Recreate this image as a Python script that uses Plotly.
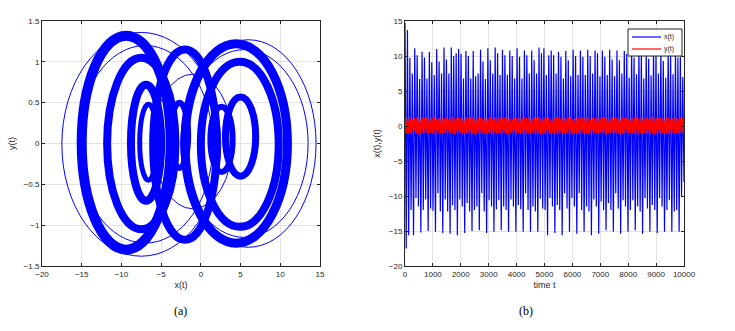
import numpy as np
import plotly.graph_objects as go

# ---------------- (a) phase portrait: loops ----------------
# each loop: x-left, x-right, y-bottom, y-top, line width (px)
loop_x0 = [-15.0, -11.8, -8.8, -7.7, -6.0, -3.8, -2.0, 0.0, 3.1, 1.2,
           -17.5, -2.5, -15.5, -2.5, -6.0]
loop_x1 = [-3.8, -3.2, -5.0, -5.5, 2.0, -1.6, 10.9, 9.8, 6.9, 4.0,
           2.5, 14.5, 1.5, 13.5, 4.0]
loop_y0 = [-1.30, -1.05, -0.70, -0.45, -1.18, -0.30, -1.22, -1.02, -0.40, -0.35,
           -1.38, -1.27, -1.22, -1.15, -0.80]
loop_y1 = [1.32, 1.05, 0.72, 0.48, 1.15, 0.50, 1.22, 1.00, 0.57, 0.45,
           1.36, 1.27, 1.20, 1.15, 0.85]
loop_w = [10, 8, 8, 5, 8, 6, 9, 8, 7, 6,
          1, 1, 1, 1, 1]

# ---------------- (b) time series: extrema ----------------
x_peaks = [14.7, 13.7, 9.7, 7.5, 11.1, 10.1, 6.7, 10.6, 9.8, 6.8,
           10.6, 9.1, 7.3, 11.0, 9.2, 7.5, 11.2, 9.5, 7.5, 11.2,
           10.0, 10.4, 11.0, 10.3, 6.8, 10.7, 10.0, 6.8, 10.7, 7.1,
           7.5, 10.9, 9.2, 6.7, 11.1, 9.4, 7.5, 11.2, 10.4, 7.3,
           10.9, 10.1, 7.3, 10.8, 10.0, 6.8, 11.1, 9.9, 6.8, 10.8,
           10.1, 7.5, 10.8, 9.4, 7.5, 11.2, 10.4,
           11.1, 7.3, 10.1, 10.8, 10.1, 7.5, 10.6, 9.9, 6.8, 10.7,
           9.4, 7.1, 10.9, 10.0, 7.3, 10.8, 9.9, 7.3, 10.9, 10.0,
           7.5, 10.8, 10.4, 7.1, 10.8, 9.9, 7.3, 10.9, 9.5, 7.1,
           10.8, 9.4, 7.5, 10.7, 10.3, 6.9, 11.0, 9.8, 7.4, 10.9,
           10.2, 6.8, 10.6, 9.6, 7.2, 11.1, 10.0, 7.5, 10.8, 9.3,
           6.9, 11.0, 10.2, 7.4, 10.7, 9.8, 9.9, 7.0]
x_troughs = [-17.5, -15.6, -12.0, -15.6, -10.3, -11.5, -15.2, -12.0, -10.5, -15.0,
             -11.8, -12.1, -15.1, -9.6, -12.2, -15.3, -10.5, -12.2, -15.4, -11.3,
             -12.0, -15.6, -10.5, -11.5, -15.3, -11.0, -12.2, -15.0, -12.0, -11.5,
             -14.9, -9.6, -12.2, -15.3, -10.6, -11.5, -15.1, -11.9, -10.6, -14.9,
             -11.5, -12.0, -15.1, -10.5, -11.5, -15.1, -11.3, -11.9, -15.1, -9.6,
             -12.0, -15.1, -11.5, -12.2, -15.1, -10.4, -11.8,
             -12.0, -15.6, -10.3, -11.5, -15.3, -11.3, -12.0, -15.6, -9.6, -11.8,
             -15.1, -10.3, -11.5, -15.4, -9.6, -12.0, -15.1, -11.5, -12.2, -15.6,
             -10.5, -11.5, -15.4, -10.8, -12.0, -14.9, -11.0, -12.0, -15.1, -9.6,
             -11.8, -15.4, -10.6, -11.5, -15.1, -12.0, -10.6, -14.9, -11.5, -12.2,
             -15.4, -10.3, -11.8, -15.1, -11.3, -12.0, -15.3, -10.3, -11.5, -15.1,
             -12.0, -10.6, -15.1, -12.2, -12.0, -15.1, -10.0, -8.0]
y_highs = [1.2, 1.1, 1.25, 0.95, 1.15, 1.3, 1.0, 1.2, 1.1, 1.25,
           1.05, 1.2, 1.3, 1.0, 1.15, 1.2, 1.1, 1.25, 0.95, 1.2,
           1.3, 1.05, 1.15, 1.2, 1.0, 1.25, 1.1, 1.2, 1.3, 1.0,
           1.15, 1.25, 1.05, 1.2, 1.1, 1.3, 1.0, 1.2, 1.15, 1.25,
           1.05, 1.2, 1.3, 1.1, 1.0, 1.25, 1.15, 1.2, 1.05, 1.3,
           1.1, 1.2, 1.0, 1.25, 1.15, 1.3, 1.05, 1.2, 1.1, 1.25,
           1.0, 1.2, 1.3, 1.15, 1.05, 1.25, 1.1, 1.2, 1.3, 1.0,
           1.15, 1.25, 1.05, 1.2, 1.1, 1.3, 1.0, 1.2, 1.15, 1.25,
           1.05, 1.2, 1.3, 1.1, 1.0, 1.25, 1.15, 1.2, 1.05, 1.3,
           1.1, 1.2, 1.0, 1.25, 1.15, 1.3, 1.05, 1.2, 1.1, 1.25,
           1.0, 1.2, 1.3, 1.15, 1.05, 1.25, 1.1, 1.2, 1.3, 1.0,
           1.15, 1.25, 1.05, 1.2, 1.1]
y_lows = [-1.1, -1.0, -1.15, -0.9, -1.05, -1.2, -0.95, -1.1, -1.0, -1.15,
          -0.95, -1.1, -1.2, -1.0, -1.05, -1.1, -1.0, -1.15, -0.9, -1.1,
          -1.2, -0.95, -1.05, -1.1, -1.0, -1.15, -1.0, -1.1, -1.2, -0.95,
          -1.05, -1.15, -1.0, -1.1, -1.0, -1.2, -0.95, -1.1, -1.05, -1.15,
          -1.0, -1.1, -1.2, -1.0, -0.95, -1.15, -1.05, -1.1, -1.0, -1.2,
          -1.0, -1.1, -0.95, -1.15, -1.05, -1.2, -1.0, -1.1, -1.0, -1.15,
          -0.95, -1.1, -1.2, -1.05, -1.0, -1.15, -1.0, -1.1, -1.2, -0.95,
          -1.05, -1.15, -1.0, -1.1, -1.0, -1.2, -0.95, -1.1, -1.05, -1.15,
          -1.0, -1.1, -1.2, -1.0, -0.95, -1.15, -1.05, -1.1, -1.0, -1.2,
          -1.0, -1.1, -0.95, -1.15, -1.05, -1.2, -1.0, -1.1, -1.0, -1.15,
          -0.95, -1.1, -1.2, -1.05, -1.0, -1.15, -1.0, -1.1, -1.2, -0.95,
          -1.05, -1.15, -1.0, -1.1, -1.0]
t_end = 10000
series_names = ["x(t)", "y(t)"]

# interleave extrema in time order on a uniform sample grid
x_series = np.empty(2 * len(x_peaks))
x_series[0::2] = x_peaks
x_series[1::2] = x_troughs
y_series = np.empty(2 * len(y_highs))
y_series[0::2] = y_highs
y_series[1::2] = y_lows
t_x = np.linspace(0, t_end, len(x_series))
t_y = np.linspace(0, t_end, len(y_series))

BLUE = "#0000ff"
RED = "#ff0000"
AX = "#262626"
GRID = "#e3e3e3"
FONT = "Liberation Sans"
W, H = 735, 331


def px(x):
    return x / W


def py(y):
    return (H - y) / H


fig = go.Figure()

# invisible anchor trace for subplot (a)
fig.add_trace(go.Scatter(x=[loop_x0[0]], y=[0], mode="markers", marker=dict(opacity=0),
                         xaxis="x", yaxis="y", showlegend=False, hoverinfo="skip"))

for x0, x1, y0, y1, w in zip(loop_x0, loop_x1, loop_y0, loop_y1, loop_w):
    fig.add_shape(type="circle", xref="x", yref="y", x0=x0, x1=x1, y0=y0, y1=y1,
                  line=dict(color=BLUE, width=w), layer="above")

fig.add_trace(go.Scatter(x=t_x, y=x_series, mode="lines", name=series_names[0],
                         line=dict(color=BLUE, width=1.2), xaxis="x2", yaxis="y2"))
fig.add_trace(go.Scatter(x=t_y, y=y_series, mode="lines", name=series_names[1],
                         line=dict(color=RED, width=1.6), xaxis="x2", yaxis="y2"))

# compact MATLAB-style legend box
fig.add_shape(type="rect", xref="paper", yref="paper", x0=px(628), x1=px(682),
              y0=py(56), y1=py(29), fillcolor="white", line=dict(color=AX, width=1),
              layer="above")
for name, col, yy in zip(series_names, [BLUE, RED], [37, 49]):
    fig.add_shape(type="line", xref="paper", yref="paper", x0=px(632), x1=px(661),
                  y0=py(yy), y1=py(yy), line=dict(color=col, width=1.2), layer="above")
    fig.add_annotation(text=name, xref="paper", yref="paper", x=px(662), y=py(yy),
                       xanchor="left", yanchor="middle", showarrow=False,
                       font=dict(family=FONT, size=7, color=AX))

axis_common = dict(showline=True, linecolor=AX, linewidth=1, mirror="ticks",
                   ticks="inside", ticklen=3, tickcolor=AX, showgrid=True,
                   gridcolor=GRID, gridwidth=1, zeroline=False, automargin=False,
                   tickfont=dict(family=FONT, size=8, color=AX),
                   title_font=dict(family=FONT, size=9, color=AX))

fig.update_layout(
    width=W, height=H,
    margin=dict(l=0, r=0, t=0, b=0, autoexpand=False),
    paper_bgcolor="white", plot_bgcolor="white",
    showlegend=False,
    xaxis=dict(axis_common, domain=[px(42), px(320)], range=[-20, 15], dtick=5,
               tick0=-20, anchor="y", title=dict(text="x(t)", standoff=4)),
    yaxis=dict(axis_common, domain=[py(266), py(21)], range=[-1.5, 1.5],
               dtick=0.5, tick0=-1.5, anchor="x", title=dict(text="y(t)", standoff=6)),
    xaxis2=dict(axis_common, domain=[px(405), px(684)], range=[0, 10000], dtick=1000,
                tick0=0, tickformat="d", anchor="y2", title=dict(text="time t", standoff=4)),
    yaxis2=dict(axis_common, domain=[py(266), py(21)], range=[-20, 15],
                dtick=5, tick0=-20, anchor="x2", title=dict(text="x(t),y(t)", standoff=6)),
)
fig.add_annotation(text="(a)", x=px(172), y=py(320), xref="paper", yref="paper",
                   showarrow=False, font=dict(family="Liberation Serif", size=12, color="black"))
fig.add_annotation(text="(b)", x=px(535), y=py(320), xref="paper", yref="paper",
                   showarrow=False, font=dict(family="Liberation Serif", size=12, color="black"))

fig.write_html("out.html", config={"displayModeBar": False},
               post_script="document.body.style.margin='0';document.body.style.overflow='hidden';")
